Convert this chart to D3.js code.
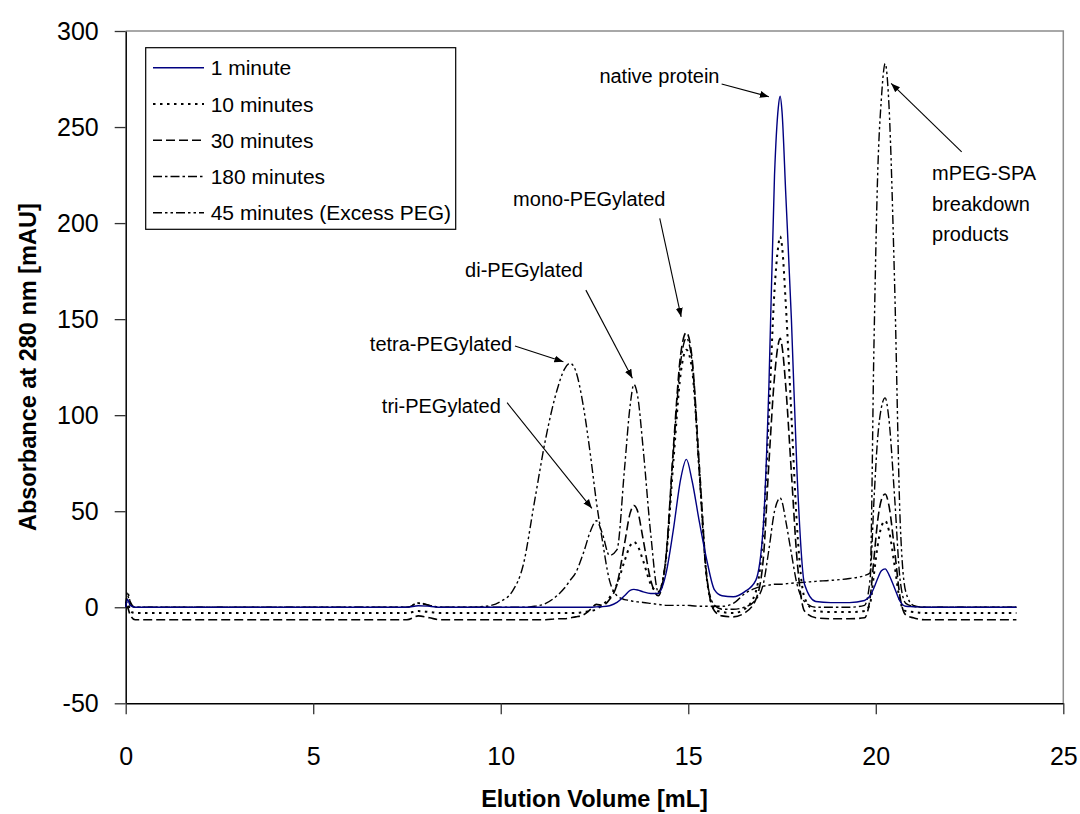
<!DOCTYPE html>
<html>
<head>
<meta charset="utf-8">
<script src="https://cdn.jsdelivr.net/npm/d3@7"></script>
<style>
  body { margin: 0; background: #fff; }
  text { font-family: "Liberation Sans", Arial, sans-serif; fill: #000; }
</style>
</head>
<body>
<div id="viz"></div>
<script>
// elution volume grid (mL), shared by all traces
const elutionVolume = [0, 0.05, 0.12, 0.25, 0.5, 2, 4, 6, 7.5, 7.8, 8.1, 8.4, 9.0, 9.6, 10.0, 10.3, 10.6, 10.9,
  11.2, 11.5, 11.7, 11.85, 12.0, 12.2, 12.4, 12.55, 12.7, 12.9, 13.1, 13.3, 13.45, 13.55, 13.65, 13.8, 14.0,
  14.2, 14.4, 14.6, 14.8, 14.95, 15.1, 15.3, 15.5, 15.7, 15.9, 16.2, 16.5, 16.8, 17.0, 17.15, 17.3, 17.4,
  17.45, 17.5, 17.6, 17.75, 17.9, 18.1, 18.4, 18.8, 19.3, 19.7, 19.85, 19.95, 20.05, 20.15, 20.25, 20.35,
  20.5, 20.65, 20.8, 21.0, 21.3, 22.0, 23.75];

// absorbance at 280 nm (mAU)
const abs1min = [0, 4, 1, 0, 0, 0, 0, 0, 0, 0.8, 0.5, 0, 0, 0, 0, 0, 0, 0,
  0, 0, 0, 0, 0, 0, 0, 0.2, 0.3, 0.8, 2.5, 6, 8.8, 9.3, 9, 8, 7.2,
  7.2, 17, 40, 67, 77, 66, 44, 24, 9, 6, 5.5, 8, 14, 42, 115, 225, 260,
  266, 258, 215, 150, 70, 12, 3, 2.4, 2.4, 3.5, 6, 10, 15, 19, 20, 17,
  10, 3, 0.5, 0.3, 0, 0, 0];
const abs10min = [2, 3, -2, -3, -3, -3, -3, -3, -3, -2, -2.5, -3, -3, -3, -3, -3, -3, -3,
  -3, -3, -3, -3, -3, -2.5, -2, -1, 1, 5, 12, 24, 32, 34, 32, 24, 12,
  8, 24, 75, 122, 134, 124, 70, 14, -1, -2.5, -3, -1, 8, 40, 100, 165, 188,
  193, 188, 158, 100, 42, 5, -2, -2.5, -2.5, -2, 2, 17, 32, 42, 45, 40,
  22, 3, -2, -2.5, -3, -3, -3];
const abs30min = [1, 0, -4, -6.5, -6.5, -6.5, -6.5, -6.5, -6.5, -4.5, -5.5, -6.5, -6.5, -6.5, -6.5, -6.5, -6.5, -6.5,
  -6.5, -6, -6, -5.5, -5, -4, -1, 1.5, 1, 4, 12, 33, 49, 53, 50, 35, 14,
  6, 25, 82, 132, 143, 130, 72, 15, -2, -4.5, -5, -3, 4, 25, 75, 120, 137,
  140, 136, 115, 70, 25, -2, -5.5, -6, -6, -5.5, 5, 25, 45, 56, 59, 53,
  30, 5, -4, -5.5, -6.5, -6.5, -6.5];
const abs180min = [0, 6, 2, 0, 0, 0, 0, 0, 0, 2, 1, 0, 0, 0, 0, 0, 0, 0.5,
  2, 6, 10, 14, 18, 28, 40, 45, 39, 27, 30, 72, 105, 116, 110, 82, 38,
  8, 25, 80, 128, 140, 128, 68, 14, 1, -1, -1, 0, 4, 12, 30, 50, 56,
  57, 55, 45, 28, 12, 3, 0, 0, 0, 1, 15, 55, 88, 104, 109, 98,
  58, 14, 2, 0.5, 0, 0, 0];
const abs45minExcess = [0, 8, 3, 0, 0, 0, 0, 0, 0, 2.3, 1, 0, 0, 0.5, 3, 8, 22, 55,
  88, 113, 124, 127, 123, 105, 78, 55, 36, 14, 6, 4, 3.5, 3, 2.8, 2.5, 2,
  1.5, 1, 1, 1, 1, 0.8, 0.5, 0.5, 0.5, 0.5, 2, 7, 10, 11, 11.5, 12, 12,
  12, 12, 12.2, 12.5, 12.7, 13, 13.5, 14, 15, 16.5, 18, 135, 225, 265, 283, 262,
  170, 45, 8, 1, 0, 0, 0];

const seriesNames = ["1 minute", "10 minutes", "30 minutes", "180 minutes", "45 minutes (Excess PEG)"];
const seriesValues = [abs1min, abs10min, abs30min, abs180min, abs45minExcess];
const xTicks = [0, 5, 10, 15, 20, 25];
const yTicks = [-50, 0, 50, 100, 150, 200, 250, 300];

// peak labels: text anchor and arrow in data units (mL, mAU)
const labelTexts = [["native protein"], ["mPEG-SPA", "breakdown", "products"], ["mono-PEGylated"],
  ["di-PEGylated"], ["tetra-PEGylated"], ["tri-PEGylated"]];
const labelAt = [[12.63, 273], [21.5, 222.4], [10.33, 209], [9.05, 172], [6.51, 133.4], [6.83, 101]];
const arrowFrom = [[15.89, 272.4], [22.29, 237.1], [14.24, 202.5], [12.27, 165.1], [10.38, 136], [10.17, 106.5]];
const arrowTo = [[17.15, 265.8], [20.41, 272.7], [14.81, 151.2], [13.51, 119.2], [11.67, 127.8], [12.43, 51.5]];

const lineStyles = [
  { color: "#000080", dash: null, width: 1.4 },
  { color: "#000", dash: "2.5,4.5", width: 2 },
  { color: "#000", dash: "9,4", width: 1.6 },
  { color: "#000", dash: "9,3,2.5,3", width: 1.4 },
  { color: "#000", dash: "9,3,2.5,3,2.5,3", width: 1.4 }
];

const svg = d3.select("#viz")
  .append("svg")
  .attr("width", 1080)
  .attr("height", 814);

const x = d3.scaleLinear().domain([0, 25]).range([125.7, 1063.3]);
const y = d3.scaleLinear().domain([-50, 300]).range([703.3, 31]);

// gray frame on top and right
svg.append("path")
  .attr("d", `M${x(0)},${y(300)}H${x(25)}V${y(-50)}`)
  .attr("fill", "none")
  .attr("stroke", "#8c8c8c")
  .attr("stroke-width", 1.5);

const yAxis = svg.append("g")
  .attr("transform", `translate(${x(0)},0)`)
  .call(d3.axisLeft(y).tickValues(yTicks).tickFormat(d => String(d))
    .tickSize(11).tickSizeOuter(0).tickPadding(16));

const xAxis = svg.append("g")
  .attr("transform", `translate(0,${y(-50)})`)
  .call(d3.axisBottom(x).tickValues(xTicks).tickFormat(d => String(d))
    .tickSize(11).tickSizeOuter(0).tickPadding(33));

[yAxis, xAxis].forEach(g => {
  g.select(".domain").attr("stroke", "#000").attr("stroke-width", 1.5);
  g.selectAll(".tick line").attr("stroke", "#333").attr("stroke-width", 1.3);
  g.selectAll(".tick text").attr("font-size", 25).attr("font-family", "Liberation Sans, Arial, sans-serif");
});

svg.append("text")
  .attr("x", (x(0) + x(25)) / 2)
  .attr("y", 807)
  .attr("text-anchor", "middle")
  .attr("font-size", 23.5)
  .attr("font-weight", "bold")
  .text("Elution Volume [mL]");

svg.append("text")
  .attr("transform", `translate(36,${(y(300) + y(-50)) / 2}) rotate(-90)`)
  .attr("text-anchor", "middle")
  .attr("font-size", 23.5)
  .attr("font-weight", "bold")
  .text("Absorbance at 280 nm [mAU]");

const line = d3.line()
  .x(d => x(d[0]))
  .y(d => y(d[1]))
  .curve(d3.curveMonotoneX);

// draw the excess run first so the 1 minute trace ends up on top
[4, 3, 2, 1, 0].forEach(i => {
  svg.append("path")
    .datum(elutionVolume.map((v, k) => [v, seriesValues[i][k]]))
    .attr("d", line)
    .attr("fill", "none")
    .attr("stroke", lineStyles[i].color)
    .attr("stroke-width", lineStyles[i].width)
    .attr("stroke-dasharray", lineStyles[i].dash);
});

// legend
const legend = svg.append("g");
legend.append("rect")
  .attr("x", 145.7).attr("y", 47.7)
  .attr("width", 310).attr("height", 181.6)
  .attr("fill", "#fff")
  .attr("stroke", "#000")
  .attr("stroke-width", 1.2);

seriesNames.forEach((name, i) => {
  const ly = 67.7 + i * 36.25;
  legend.append("line")
    .attr("x1", 153).attr("x2", 204)
    .attr("y1", ly).attr("y2", ly)
    .attr("stroke", lineStyles[i].color)
    .attr("stroke-width", lineStyles[i].width)
    .attr("stroke-dasharray", lineStyles[i].dash);
  legend.append("text")
    .attr("x", 210.7).attr("y", ly)
    .attr("dy", "0.36em")
    .attr("font-size", 21)
    .text(name);
});

// arrows for the peak labels
svg.append("defs").append("marker")
  .attr("id", "arrow")
  .attr("markerUnits", "userSpaceOnUse")
  .attr("markerWidth", 10).attr("markerHeight", 8)
  .attr("refX", 9).attr("refY", 4)
  .attr("orient", "auto")
  .append("path")
  .attr("d", "M0,0.5L9,4L0,7.5Z")
  .attr("fill", "#000");

labelTexts.forEach((lines, i) => {
  const t = svg.append("text")
    .attr("x", x(labelAt[i][0]))
    .attr("y", y(labelAt[i][1]))
    .attr("font-size", 20);
  lines.forEach((s, k) => {
    t.append("tspan")
      .attr("x", x(labelAt[i][0]))
      .attr("dy", k == 0 ? 0 : 30.5)
      .text(s);
  });
  svg.append("line")
    .attr("x1", x(arrowFrom[i][0])).attr("y1", y(arrowFrom[i][1]))
    .attr("x2", x(arrowTo[i][0])).attr("y2", y(arrowTo[i][1]))
    .attr("stroke", "#000")
    .attr("stroke-width", 1.1)
    .attr("marker-end", "url(#arrow)");
});
</script>
</body>
</html>
